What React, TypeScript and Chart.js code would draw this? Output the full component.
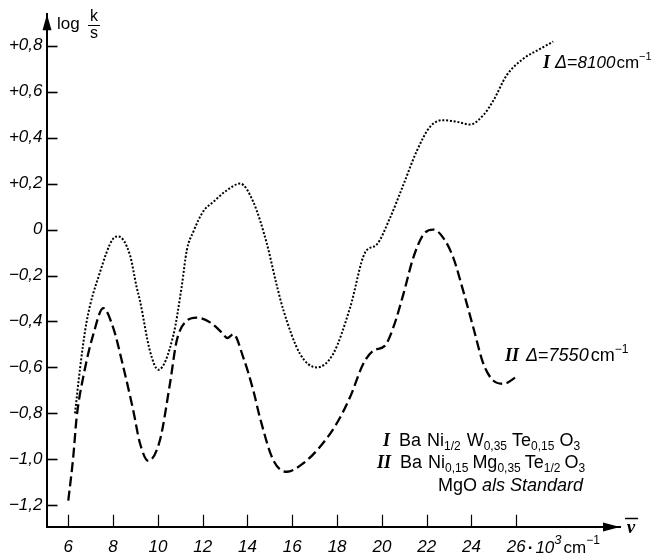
import React, { useEffect, useRef } from "react";
import { Chart, registerables } from "chart.js";

Chart.register(...registerables);

// ---- data ----
const xTicks = [6, 8, 10, 12, 14, 16, 18, 20, 22, 24, 26];
const xTickLabels = ["6", "8", "10", "12", "14", "16", "18", "20", "22", "24", "26"];
const yTicks = [0.8, 0.6, 0.4, 0.2, 0, -0.2, -0.4, -0.6, -0.8, -1.0, -1.2];
const yTickLabels = ["+0,8", "+0,6", "+0,4", "+0,2", "0", "−0,2", "−0,4", "−0,6", "−0,8", "−1,0", "−1,2"];

// Curve I (dotted): Ba Ni1/2 W0,35 Te0,15 O3
const curveINu = [6.3, 6.53, 6.82, 7.4, 8.0, 8.23, 8.75, 9.05, 9.2, 9.65, 10.02, 10.69, 11.06, 11.29, 11.58, 12.03, 12.47, 13.07, 13.67, 14.26, 14.86, 15.3, 15.6, 16.34, 17.09, 17.83, 18.58, 19.25, 19.77, 20.36, 20.96, 21.55, 22.15, 22.74, 23.34, 23.93, 24.53, 24.97, 25.57, 26.31, 27.06, 27.65];
const curveILogKS = [-0.8, -0.6, -0.4, -0.19, -0.04, -0.03, -0.11, -0.25, -0.31, -0.53, -0.61, -0.46, -0.25, -0.09, -0.01, 0.08, 0.12, 0.17, 0.2, 0.12, -0.06, -0.24, -0.35, -0.54, -0.6, -0.54, -0.34, -0.1, -0.065, 0.05, 0.195, 0.34, 0.447, 0.476, 0.469, 0.457, 0.498, 0.56, 0.671, 0.743, 0.786, 0.818];

// Curve II (dashed): Ba Ni0,15 Mg0,35 Te1/2 O3
const curveIINu = [6.0, 6.22, 6.37, 6.67, 7.12, 7.56, 8.0, 8.46, 8.9, 9.2, 9.57, 10.09, 10.54, 10.84, 11.29, 11.73, 12.33, 12.85, 13.1, 13.37, 13.81, 14.26, 14.56, 15.15, 15.75, 16.49, 17.24, 17.98, 18.58, 19.17, 19.62, 20.14, 20.51, 20.96, 21.4, 21.85, 22.29, 22.74, 23.19, 23.63, 24.08, 24.53, 24.97, 25.42, 26.09];
const curveIILogKS = [-1.18, -0.99, -0.82, -0.64, -0.455, -0.342, -0.426, -0.6, -0.787, -0.93, -1.006, -0.917, -0.67, -0.484, -0.397, -0.383, -0.404, -0.448, -0.472, -0.455, -0.556, -0.7, -0.82, -1.003, -1.054, -1.017, -0.945, -0.844, -0.729, -0.584, -0.527, -0.505, -0.426, -0.281, -0.123, -0.022, 0.0, -0.036, -0.123, -0.267, -0.426, -0.584, -0.657, -0.671, -0.635];

const X_MIN = 5.027;
const X_MAX = 30.63;
const Y_MIN = -1.293;
const Y_MAX = 0.937;

const SANS = "'Liberation Sans', 'DejaVu Sans', sans-serif";
const SERIF = "'Liberation Serif', 'DejaVu Serif', serif";

type Run = { t?: string; f?: string; dy?: number; gap?: number };

function drawRuns(ctx: CanvasRenderingContext2D, x: number, y: number, runs: Run[]) {
  let cx = x;
  for (const r of runs) {
    if (r.gap) {
      cx += r.gap;
      continue;
    }
    ctx.font = r.f as string;
    ctx.fillText(r.t as string, cx, y + (r.dy || 0));
    cx += ctx.measureText(r.t as string).width;
  }
  return cx;
}

const decorPlugin = {
  id: "decor",
  afterDraw(chart: any) {
    const ctx: CanvasRenderingContext2D = chart.ctx;
    const xs = chart.scales.x;
    const ys = chart.scales.y;
    const { left, bottom } = chart.chartArea;
    ctx.save();
    ctx.fillStyle = "#000";
    ctx.strokeStyle = "#000";

    // y tick marks (inside)
    ctx.lineWidth = 1.6;
    for (const v of yTicks) {
      const py = Math.round(ys.getPixelForValue(v)) + 0.5;
      ctx.beginPath();
      ctx.moveTo(left, py);
      ctx.lineTo(left + 11, py);
      ctx.stroke();
    }
    // x tick marks (inside)
    ctx.lineWidth = 1.2;
    for (const v of xTicks) {
      const px = Math.round(xs.getPixelForValue(v)) + 0.5;
      ctx.beginPath();
      ctx.moveTo(px, bottom);
      ctx.lineTo(px, bottom - 12);
      ctx.stroke();
    }

    // arrows
    const ax = Math.round(left);
    ctx.beginPath();
    ctx.moveTo(ax, chart.chartArea.top);
    ctx.lineTo(ax - 4.5, chart.chartArea.top + 16);
    ctx.lineTo(ax + 4.5, chart.chartArea.top + 16);
    ctx.closePath();
    ctx.fill();
    const ay = Math.round(bottom);
    const rx = chart.chartArea.right;
    ctx.beginPath();
    ctx.moveTo(rx, ay);
    ctx.lineTo(rx - 17, ay - 4.5);
    ctx.lineTo(rx - 17, ay + 4.5);
    ctx.closePath();
    ctx.fill();

    // axis titles
    ctx.textBaseline = "alphabetic";
    ctx.textAlign = "left";
    ctx.font = `17px ${SANS}`;
    ctx.fillText("log", 57, 29);
    ctx.textAlign = "center";
    ctx.font = `16px ${SANS}`;
    ctx.fillText("k", 94, 21);
    ctx.fillText("s", 94, 38);
    ctx.lineWidth = 1;
    ctx.beginPath();
    ctx.moveTo(88, 25.5);
    ctx.lineTo(100, 25.5);
    ctx.stroke();

    // nu-bar
    ctx.font = `italic bold 19px ${SERIF}`;
    ctx.fillText("ν", 631, 533);
    ctx.lineWidth = 1.5;
    ctx.beginPath();
    ctx.moveTo(625, 518.5);
    ctx.lineTo(638, 518.5);
    ctx.stroke();

    // suffix after last x tick label
    ctx.textAlign = "left";
    const p26 = xs.getPixelForValue(26);
    ctx.font = `italic 17px ${SANS}`;
    const w26 = ctx.measureText("26").width;
    drawRuns(ctx, p26 + w26 / 2 + 2, 553, [
      { t: "·", f: `bold 17px ${SANS}` },
      { gap: 2 },
      { t: "10", f: `italic 17px ${SANS}` },
      { t: "3", f: `italic 13px ${SANS}`, dy: -9 },
      { gap: 2 },
      { t: "cm", f: `17px ${SANS}` },
      { t: "−1", f: `12px ${SANS}`, dy: -9 },
    ]);

    // curve labels
    drawRuns(ctx, 543, 68, [
      { t: "I", f: `italic bold 18px ${SERIF}` },
      { gap: 5 },
      { t: "Δ", f: `italic 18px ${SANS}` },
      { t: "=", f: `18px ${SANS}` },
      { t: "8100", f: `italic 17px ${SANS}` },
      { gap: 1 },
      { t: "cm", f: `17px ${SANS}` },
      { t: "−1", f: `11px ${SANS}`, dy: -8 },
    ]);
    drawRuns(ctx, 505, 361, [
      { t: "II", f: `italic bold 18px ${SERIF}` },
      { gap: 7 },
      { t: "Δ", f: `italic 18px ${SANS}` },
      { t: "=", f: `18px ${SANS}` },
      { t: "7550", f: `italic 18px ${SANS}` },
      { gap: 2 },
      { t: "cm", f: `18px ${SANS}` },
      { t: "−1", f: `12px ${SANS}`, dy: -8 },
    ]);

    // legend block
    const M = `18px ${SANS}`;
    const S = `12px ${SANS}`;
    drawRuns(ctx, 383, 446, [
      { t: "I", f: `italic bold 18px ${SERIF}` },
      { gap: 9 },
      { t: "Ba", f: M },
      { gap: 6 },
      { t: "Ni", f: M },
      { t: "1/2", f: S, dy: 4 },
      { gap: 6 },
      { t: "W", f: M },
      { t: "0,35", f: S, dy: 4 },
      { gap: 5 },
      { t: "Te", f: M },
      { t: "0,15", f: S, dy: 4 },
      { gap: 5 },
      { t: "O", f: M },
      { t: "3", f: S, dy: 4 },
    ]);
    drawRuns(ctx, 377, 468, [
      { t: "II", f: `italic bold 18px ${SERIF}` },
      { gap: 9 },
      { t: "Ba", f: M },
      { gap: 6 },
      { t: "Ni", f: M },
      { t: "0,15", f: S, dy: 4 },
      { gap: 4 },
      { t: "Mg", f: M },
      { t: "0,35", f: S, dy: 4 },
      { gap: 4 },
      { t: "Te", f: M },
      { t: "1/2", f: S, dy: 4 },
      { gap: 4 },
      { t: "O", f: M },
      { t: "3", f: S, dy: 4 },
    ]);
    drawRuns(ctx, 438, 491, [
      { t: "MgO", f: M },
      { gap: 5 },
      { t: "als Standard", f: `italic 18px ${SANS}` },
    ]);

    ctx.restore();
  },
};

export default function App() {
  const canvasRef = useRef<HTMLCanvasElement | null>(null);

  useEffect(() => {
    const canvas = canvasRef.current;
    if (!canvas) return;
    const tickFont = { family: SANS, size: 17, style: "italic" as const };
    const chart = new Chart(canvas, {
      type: "line",
      data: {
        datasets: [
          {
            label: "I",
            data: curveINu.map((x, i) => ({ x, y: curveILogKS[i] })),
            borderColor: "#000",
            borderWidth: 2,
            borderDash: [2, 1.8],
            pointRadius: 0,
            cubicInterpolationMode: "monotone",
            fill: false,
          },
          {
            label: "II",
            data: curveIINu.map((x, i) => ({ x, y: curveIILogKS[i] })),
            borderColor: "#000",
            borderWidth: 2.3,
            borderDash: [10, 4.5],
            pointRadius: 0,
            cubicInterpolationMode: "monotone",
            fill: false,
          },
        ],
      },
      options: {
        responsive: false,
        animation: false,
        devicePixelRatio: 1,
        layout: { padding: { top: 12, right: 38, left: 0, bottom: 0 } },
        plugins: { legend: { display: false }, tooltip: { enabled: false }, title: { display: false } },
        scales: {
          x: {
            type: "linear",
            min: X_MIN,
            max: X_MAX,
            afterBuildTicks: (s: any) => {
              s.ticks = xTicks.map((v) => ({ value: v }));
            },
            afterFit: (s: any) => {
              s.height = 29.3;
            },
            grid: { display: false, drawTicks: false },
            border: { display: true, color: "#000", width: 2 },
            ticks: {
              autoSkip: false,
              maxRotation: 0,
              minRotation: 0,
              padding: 10,
              color: "#000",
              font: tickFont,
              callback: (_v: any, i: number) => xTickLabels[i],
            },
          },
          y: {
            type: "linear",
            min: Y_MIN,
            max: Y_MAX,
            afterBuildTicks: (s: any) => {
              s.ticks = yTicks.map((v) => ({ value: v }));
            },
            afterFit: (s: any) => {
              s.width = 46.5;
            },
            grid: { display: false, drawTicks: false },
            border: { display: true, color: "#000", width: 2 },
            ticks: {
              autoSkip: false,
              padding: 4,
              color: "#000",
              font: tickFont,
              callback: (_v: any, i: number) => yTickLabels[i],
            },
          },
        },
      },
      plugins: [decorPlugin],
    } as any);
    return () => chart.destroy();
  }, []);

  return (
    <canvas
      ref={canvasRef}
      width={658}
      height={556}
      style={{ position: "fixed", left: 0, top: 0, width: 658, height: 556, background: "#fff" }}
    />
  );
}
